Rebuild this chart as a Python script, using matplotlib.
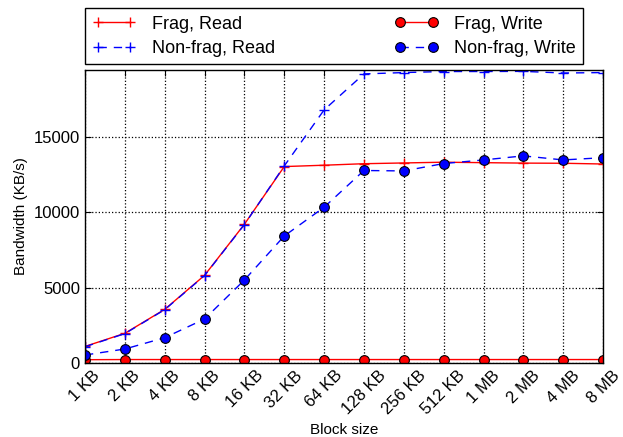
import numpy as np
import matplotlib.pyplot as plt

plt.rcParams['font.family'] = ['Liberation Sans', 'DejaVu Sans']

block_sizes = ['1 KB', '2 KB', '4 KB', '8 KB', '16 KB', '32 KB', '64 KB', '128 KB',
               '256 KB', '512 KB', '1 MB', '2 MB', '4 MB', '8 MB']

frag_read = [1100, 1970, 3560, 5820, 9210, 13040, 13130, 13230,
             13280, 13330, 13300, 13270, 13260, 13210]
nonfrag_read = [1080, 1950, 3540, 5800, 9190, 13080, 16800, 19190,
                19280, 19350, 19350, 19360, 19250, 19280]
frag_write = [220, 230, 230, 230, 230, 230, 230, 230,
              230, 230, 230, 230, 230, 230]
nonfrag_write = [530, 930, 1680, 2920, 5510, 8430, 10340, 12780,
                 12750, 13240, 13480, 13750, 13480, 13630]


def main():
    fig = plt.figure(figsize=(6.23, 4.37), dpi=100)
    ax = fig.add_axes([0.1364, 0.1693, 0.8316, 0.6705])
    x = np.arange(len(block_sizes))

    dash = (6, 5)
    ax.plot(x, frag_read, '-', color='red', marker='+', markersize=7,
            markeredgewidth=1, linewidth=1, label='Frag, Read')
    ax.plot(x, frag_write, '-', color='red', marker='o', markersize=7,
            markeredgecolor='black', markeredgewidth=0.8, linewidth=1,
            label='Frag, Write')
    ax.plot(x, nonfrag_read, '--', color='blue', marker='+', markersize=7,
            markeredgewidth=1, linewidth=1, dashes=dash, label='Non-frag, Read')
    ax.plot(x, nonfrag_write, '--', color='blue', marker='o', markersize=7,
            markeredgecolor='black', markeredgewidth=0.8, linewidth=1,
            dashes=dash, label='Non-frag, Write')

    ax.set_xlim(0, len(block_sizes) - 1)
    ax.set_ylim(0, 19450)
    ax.set_xticks(x)
    ax.set_xticklabels(block_sizes, rotation=45, ha='center', fontsize=12)
    ax.set_yticks([0, 5000, 10000, 15000])
    ax.tick_params(axis='y', labelsize=12)
    ax.tick_params(direction='in', top=True, right=True, length=4)
    ax.grid(True, linestyle=':', color='black', linewidth=0.9)
    for s in ax.spines.values():
        s.set_linewidth(1.0)

    ax.set_xlabel('Block size', fontsize=11)
    ax.set_ylabel('Bandwidth (KB/s)', fontsize=11)

    handles, labels = ax.get_legend_handles_labels()
    order = [0, 2, 1, 3]
    ax.legend([handles[i] for i in order], [labels[i] for i in order],
              ncol=2, loc='lower left', mode='expand', numpoints=2,
              bbox_to_anchor=(0.0, 1.02, 0.962, 0.2), fontsize=13,
              fancybox=False, edgecolor='black', framealpha=1,
              borderaxespad=0.0, handlelength=2.4, handletextpad=0.9,
              labelspacing=0.4)

    plt.savefig('out.png', dpi=100)
    plt.close()


if __name__ == '__main__':
    main()
